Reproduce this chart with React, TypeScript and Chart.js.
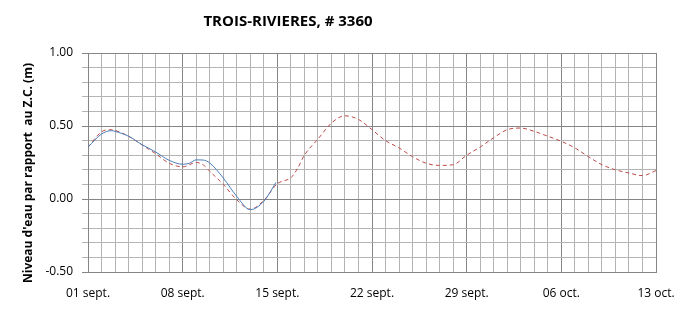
import React, { useEffect, useRef } from 'react';
import { Chart, registerables } from 'chart.js';

Chart.register(...registerables);

const chartTitle = 'TROIS-RIVIERES, # 3360';
const yAxisTitle = "Niveau d'eau par rapport  au Z.C. (m)";

// x tick labels, one per week starting 01 sept. (day 0)
const xTickLabels = ['01 sept.', '08 sept.', '15 sept.', '22 sept.', '29 sept.', '06 oct.', '13 oct.'];

// Predicted water level (red dashed), days since 01 sept.
const predDays = [0, 1, 1.6, 2, 3, 4, 5, 6, 7, 8, 8.5, 9, 10, 11, 12, 13, 14, 14.5, 15, 15.5, 16, 17, 18, 19, 20, 21, 22, 23, 24, 25, 26, 27, 28, 29, 30, 31, 32, 33, 34, 35, 36, 37, 38, 39, 40, 41, 42];
const predLevels = [0.355, 0.46, 0.475, 0.47, 0.43, 0.37, 0.31, 0.245, 0.22, 0.25, 0.235, 0.19, 0.1, -0.005, -0.07, -0.01, 0.105, 0.125, 0.145, 0.21, 0.3, 0.41, 0.52, 0.57, 0.545, 0.475, 0.4, 0.35, 0.29, 0.245, 0.23, 0.235, 0.3, 0.356, 0.42, 0.475, 0.486, 0.463, 0.43, 0.395, 0.35, 0.29, 0.235, 0.2, 0.178, 0.16, 0.195];

// Observed water level (blue solid)
const obsDays = [0, 1, 1.75, 2, 3, 4, 5, 6, 7, 7.5, 8, 8.5, 9, 10, 11, 12, 13, 13.9];
const obsLevels = [0.355, 0.445, 0.468, 0.463, 0.43, 0.372, 0.322, 0.265, 0.238, 0.245, 0.268, 0.267, 0.247, 0.144, 0.018, -0.073, -0.016, 0.114];

const MAJOR = '#858585';
const MINOR = '#b4b4b4';

const textPlugin = {
  id: 'customTexts',
  afterDraw(chart: any) {
    const ctx = chart.ctx;
    ctx.save();
    ctx.fillStyle = '#000000';
    ctx.textAlign = 'center';
    ctx.textBaseline = 'middle';
    ctx.font = 'bold 15px "Open Sans"';
    ctx.fillText(chartTitle, 288, 22);
    ctx.translate(29, 173);
    ctx.rotate(-Math.PI / 2);
    ctx.font = 'bold 12px "Open Sans"';
    ctx.fillText(yAxisTitle, 0, 0);
    ctx.restore();
  },
};

export default function App() {
  const ref = useRef<HTMLCanvasElement | null>(null);

  useEffect(() => {
    document.body.style.margin = '0';
    const canvas = ref.current;
    if (!canvas) return;
    const chart = new Chart(canvas, {
      type: 'line',
      data: {
        datasets: [
          {
            label: 'Observé',
            data: obsDays.map((d, i) => ({ x: d, y: obsLevels[i] })),
            borderColor: '#4a7ebb',
            borderWidth: 1,
            pointRadius: 0,
            cubicInterpolationMode: 'monotone',
            fill: false,
          },
          {
            label: 'Prédit',
            data: predDays.map((d, i) => ({ x: d, y: predLevels[i] })),
            borderColor: '#be4b48',
            borderWidth: 1,
            borderDash: [4, 3],
            pointRadius: 0,
            cubicInterpolationMode: 'monotone',
            fill: false,
          },
        ],
      },
      options: {
        animation: false,
        responsive: false,
        devicePixelRatio: 1,
        layout: { padding: { top: 53, right: 40, left: 0, bottom: 0 } },
        plugins: {
          legend: { display: false },
          tooltip: { enabled: false },
          title: { display: false },
        },
        scales: {
          x: {
            type: 'linear',
            min: 0,
            max: 42,
            afterFit: (scale: any) => {
              scale.height = 39;
            },
            ticks: {
              stepSize: 1,
              autoSkip: false,
              maxRotation: 0,
              padding: 14,
              color: '#000000',
              font: { family: '"Open Sans"', size: 12 },
              callback: (v: any) => {
                const n = Math.round(Number(v));
                return n % 7 === 0 ? xTickLabels[n / 7] : '';
              },
            },
            grid: {
              drawTicks: false,
              color: (c: any) => (Math.round(c.tick.value) % 7 === 0 ? MAJOR : MINOR),
            },
            border: { display: true, color: MAJOR },
          },
          y: {
            type: 'linear',
            min: -0.5,
            max: 1.0,
            afterFit: (scale: any) => {
              scale.width = 88;
            },
            ticks: {
              stepSize: 0.1,
              autoSkip: false,
              padding: 9,
              color: '#000000',
              font: { family: '"Open Sans"', size: 12 },
              callback: (v: any) => {
                const r = Math.round(Number(v) * 10);
                return r % 5 === 0 ? (r / 10).toFixed(2) : '';
              },
            },
            grid: {
              tickLength: 6,
              color: (c: any) => (Math.round(c.tick.value * 10) % 5 === 0 ? MAJOR : MINOR),
            },
            border: { display: true, color: MAJOR },
          },
        },
      },
      plugins: [textPlugin],
    });
    return () => chart.destroy();
  }, []);

  return (
    <div style={{ width: 696, height: 311, background: '#ffffff' }}>
      <canvas ref={ref} width={696} height={311} style={{ display: 'block' }} />
    </div>
  );
}
